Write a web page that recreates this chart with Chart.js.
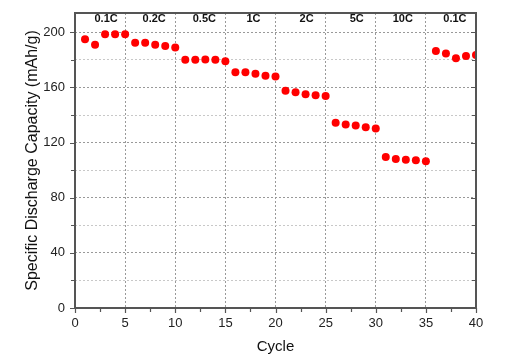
<!DOCTYPE html>
<html><head><meta charset="utf-8">
<script src="https://cdn.jsdelivr.net/npm/chart.js@4.4.0/dist/chart.umd.min.js"></script>
<style>html,body{margin:0;padding:0;background:#fff}#wrap{width:510px;height:364px}</style>
</head><body><div id="wrap"><canvas id="c" width="510" height="364"></canvas></div>
<script>
const cycles = [1,2,3,4,5,6,7,8,9,10,11,12,13,14,15,16,17,18,19,20,21,22,23,24,25,26,27,28,29,30,31,32,33,34,35,36,37,38,39,40];
const capacity = [195,191,198.5,198.5,198.5,192.5,192.5,191,190,189,180,180,180.2,180,179,171,171,170,168.5,168,157.6,156.6,155.1,154.4,153.7,134.3,133.1,132.4,131.1,130.2,109.6,108.1,107.6,107.1,106.4,186.4,184.7,181.1,182.8,183.5];
const rateLabels = ['0.1C','0.2C','0.5C','1C','2C','5C','10C','0.1C'];
const rateX = [3.1,7.9,12.9,17.8,23.1,28.1,32.7,37.9];
const rateY = 210;
const xTickLabels = [0,5,10,15,20,25,30,35,40];
const yTickLabels = [0,40,80,120,160,200];

const framePlugin = {
  id:'frame',
  afterDatasetsDraw(chart){
    const {ctx, chartArea:a, scales:{x,y}} = chart;
    ctx.save();
    ctx.fillStyle='#111';
    ctx.font='bold 11px "Liberation Sans", Arial, sans-serif';
    ctx.textAlign='center'; ctx.textBaseline='middle';
    rateLabels.forEach((t,i)=>ctx.fillText(t, x.getPixelForValue(rateX[i]), y.getPixelForValue(rateY)));
    ctx.strokeStyle='#555'; ctx.lineWidth=2;
    ctx.strokeRect(a.left, a.top, a.right-a.left, a.bottom-a.top);
    ctx.lineWidth=1.2;
    ctx.beginPath();
    for(let v=0; v<=40; v+=2.5){
      const px=Math.round(x.getPixelForValue(v))+0.5;
      const len = v%5===0?5:4;
      ctx.moveTo(px,a.bottom); ctx.lineTo(px,a.bottom+len);
    }
    for(let v=0; v<=200; v+=20){
      const py=Math.round(y.getPixelForValue(v))+0.5;
      const len = v%40===0?5:4;
      ctx.moveTo(a.left,py); ctx.lineTo(a.left-len,py);
      ctx.moveTo(a.right,py); ctx.lineTo(a.right-len,py);
    }
    ctx.stroke();
    ctx.restore();
  }
};

new Chart(document.getElementById('c'), {
  type:'scatter',
  data:{datasets:[{data:cycles.map((c,i)=>({x:c,y:capacity[i]})), backgroundColor:'#ff0000', borderWidth:0, pointRadius:4, pointHoverRadius:4}]},
  options:{
    responsive:false, animation:false,
    layout:{padding:{left:0,right:34,top:13,bottom:0}},
    plugins:{legend:{display:false}, tooltip:{enabled:false}},
    scales:{
      x:{type:'linear', min:0, max:40,
        afterBuildTicks(s){ s.ticks = xTickLabels.map(v=>({value:v})); },
        afterFit(s){ s.height = 56; s.paddingLeft = 0; s.paddingRight = 0; },
        ticks:{color:'#222', padding:8, autoSkip:false, maxRotation:0, font:{family:'"Liberation Sans", Arial, sans-serif', size:13}},
        grid:{drawTicks:false, color:c=> (c.tick && c.tick.value>0 && c.tick.value<40)?'#999':'rgba(0,0,0,0)', lineWidth:1},
        border:{display:false, dash:[2,2]},
        title:{display:true, text:'Cycle', color:'#111', font:{family:'"Liberation Sans", Arial, sans-serif', size:15}, padding:{top:0,bottom:8}}
      },
      y:{type:'linear', min:0, max:214,
        afterBuildTicks(s){ const t=[]; for(let v=0; v<=200; v+=20) t.push({value:v}); s.ticks=t; },
        afterFit(s){ s.width = 75; s.paddingTop = 0; s.paddingBottom = 0; },
        ticks:{color:'#222', padding:10, autoSkip:false, callback:v=> v%40===0? v : '', font:{family:'"Liberation Sans", Arial, sans-serif', size:13}},
        grid:{drawTicks:false, color:c=>{ const v=c.tick&&c.tick.value; if(!v) return 'rgba(0,0,0,0)'; return v%40===0?'#999':'#c8c8c8'; }, lineWidth:1},
        border:{display:false, dash:[2,2]},
        title:{display:true, text:'Specific Discharge Capacity (mAh/g)', color:'#111', font:{family:'"Liberation Sans", Arial, sans-serif', size:16}, padding:{top:23,bottom:0}}
      }
    }
  },
  plugins:[framePlugin]
});
</script></body></html>
